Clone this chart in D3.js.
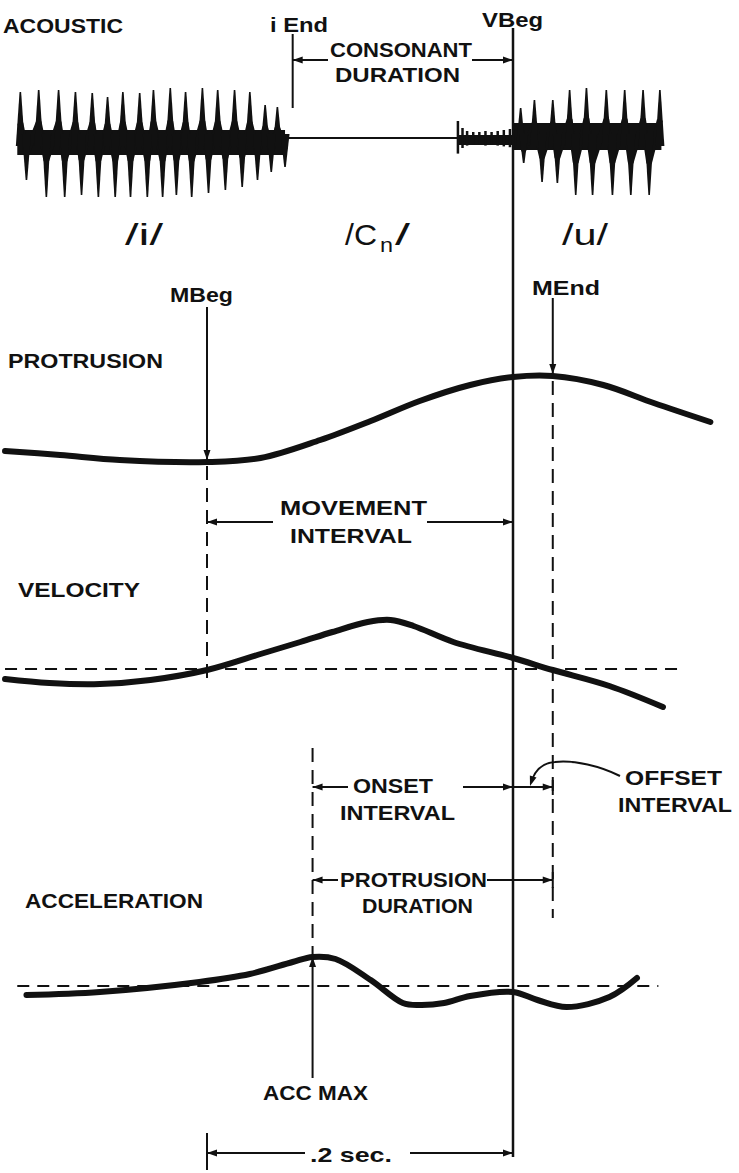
<!DOCTYPE html>
<html>
<head>
<meta charset="utf-8">
<script src="https://cdn.jsdelivr.net/npm/d3@7"></script>
<style>
  body { margin: 0; background: #fff; }
  svg text { font-family: "Liberation Sans", Arial, sans-serif; fill: #111; }
</style>
</head>
<body>
<svg id="chart" width="739" height="1173"></svg>
<script>
// all times in ms, measured from the vowel onset (VBeg)
const iEndMs = -144, vBegMs = 0, mBegMs = -200, mEndMs = 26, accMaxMs = -131;

// acoustic: pulse tips of /i/ and /u/ (time, amplitude)
const iPeakMs = [-322, -310, -297, -286, -275, -265, -255, -244, -235, -224, -214, -203, -193, -182, -172, -162, -154];
const iPeakAmp = [4.8, 5.0, 5.0, 4.8, 4.7, 4.3, 4.8, 4.7, 5.0, 5.2, 4.8, 5.2, 5.0, 5.0, 4.8, 3.5, 3.3];
const iTroughMs = [-318, -305, -293, -282, -271, -260, -250, -239, -229, -220, -210, -199, -188, -177, -167, -158, -149];
const iTroughAmp = [4.0, 5.7, 5.7, 5.5, 5.7, 5.7, 5.7, 5.7, 5.7, 5.5, 5.7, 5.3, 5.0, 4.7, 4.0, 3.2, 2.7];
const uPeakMs = [5, 14, 26, 37, 48, 61, 73, 85, 96];
const uPeakAmp = [3.2, 4.0, 4.0, 5.0, 5.2, 5.0, 5.0, 5.0, 5.0];
const uTroughMs = [7, 19, 29, 41, 52, 65, 77, 89];
const uTroughAmp = [2.3, 4.2, 4.3, 5.5, 5.5, 5.5, 5.5, 5.5];
const burstMs = [-36, -33, -30, -26, -22, -18, -14, -10, -6, -2];
const burstAmp = [1.7, 1.0, 0.7, 0.6, 0.6, 0.7, 0.6, 0.7, 0.8, 0.9];

// lip movement traces (time, value)
const protrusion = [[-332, 1.1], [-296, 0.7], [-257, 0.2], [-200, 0], [-165, 0.4], [-126, 2.2], [-93, 4.1],
  [-61, 6.1], [-28, 7.7], [0, 8.5], [26, 8.6], [59, 7.7], [92, 5.9], [129, 4.0]];
const velocity = [[-332, -1.0], [-303, -1.4], [-270, -1.5], [-237, -1.1], [-200, -0.1], [-165, 1.5], [-139, 2.7],
  [-118, 3.7], [-95, 4.7], [-80, 4.9], [-65, 4.3], [-39, 2.7], [0, 1.1], [26, -0.1], [63, -1.7], [98, -3.8]];
const acceleration = [[-318, -0.9], [-270, -0.6], [-205, 0.4], [-172, 1.2], [-144, 2.4], [-131, 2.9], [-116, 2.7],
  [-93, 0.6], [-72, -1.7], [-61, -1.9], [-45, -1.7], [-28, -1.0], [0, -0.6], [16, -1.4], [35, -2.1], [63, -1.1], [81, 0.8]];

const svg = d3.select("#chart");
const INK = "#111";

const x = d3.scaleLinear().domain([-200, 0]).range([207, 513]);
const yAco = d3.scaleLinear().domain([-6, 6]).range([200, 80]);
const yPro = d3.scaleLinear().domain([0, 10]).range([462, 362]);
const yVel = d3.scaleLinear().domain([-5, 5]).range([719, 619]);
const yAcc = d3.scaleLinear().domain([-3, 3]).range([1016, 956]);

function vline(px, y1, y2, w, dash) {
    svg.append("line").attr("x1", px).attr("x2", px).attr("y1", y1).attr("y2", y2)
        .attr("stroke", INK).attr("stroke-width", w).attr("stroke-dasharray", dash || null);
}

function head(tx, ty, ang) {
    const L = 10, H = 3.5;
    const c = Math.cos(ang), s = Math.sin(ang);
    const bx = tx - L * c, by = ty - L * s;
    svg.append("path")
        .attr("d", `M${tx},${ty}L${bx - H * s},${by + H * c}L${bx + H * s},${by - H * c}Z`)
        .attr("fill", INK);
}

function arrow(x1, y1, x2, y2, w) {
    svg.append("line").attr("x1", x1).attr("y1", y1).attr("x2", x2).attr("y2", y2)
        .attr("stroke", INK).attr("stroke-width", w || 2);
    head(x2, y2, Math.atan2(y2 - y1, x2 - x1));
}

function label(t, x0, y0, len, size, weight) {
    return svg.append("text").attr("x", x0).attr("y", y0)
        .attr("font-size", size || 21).attr("font-weight", weight || "bold")
        .attr("textLength", len).attr("lengthAdjust", "spacingAndGlyphs")
        .text(t);
}

// ---- acoustic waveform
function spikes(times, amps, dir) {
    svg.append("g").selectAll("path").data(d3.zip(times, amps)).join("path")
        .attr("d", ([t, a]) => {
            const cx = x(t), b = yAco(-dir * 0.6), tip = yAco(dir * a);
            return `M${cx - 4.5},${b}L${cx - 0.8},${tip}L${cx + 0.8},${tip}L${cx + 4.5},${b}Z`;
        })
        .attr("fill", INK);
}

// the ringing between pulses, drawn as a zigzag through the pulse tips
function ringing(peaks, peakAmp, troughs, troughAmp, k) {
    const pts = [];
    peaks.forEach((t, i) => pts.push([t, peakAmp[i] * k]));
    troughs.forEach((t, i) => pts.push([t, -troughAmp[i] * k]));
    pts.sort((a, b) => a[0] - b[0]);
    svg.append("path").datum(pts)
        .attr("d", d3.line().x(d => x(d[0])).y(d => yAco(d[1])))
        .attr("fill", "none").attr("stroke", INK).attr("stroke-width", 6).attr("stroke-linejoin", "round");
}

svg.append("rect").attr("x", x(-324)).attr("width", x(-149) - x(-324))
    .attr("y", yAco(1.0)).attr("height", yAco(-1.5) - yAco(1.0)).attr("fill", INK);
ringing(iPeakMs, iPeakAmp, iTroughMs, iTroughAmp, 0.35);
spikes(iPeakMs, iPeakAmp, 1);
spikes(iTroughMs, iTroughAmp, -1);

svg.append("line").attr("x1", x(-149)).attr("x2", x(-36))
    .attr("y1", yAco(0.2)).attr("y2", yAco(0.2)).attr("stroke", INK).attr("stroke-width", 2);
svg.append("rect").attr("x", x(-36)).attr("width", x(0) - x(-36))
    .attr("y", yAco(0.5)).attr("height", yAco(-0.5) - yAco(0.5)).attr("fill", INK);
svg.append("g").selectAll("line").data(d3.zip(burstMs, burstAmp)).join("line")
    .attr("x1", d => x(d[0])).attr("x2", d => x(d[0]))
    .attr("y1", d => yAco(d[1] + 0.2)).attr("y2", d => yAco(-d[1] * 0.8))
    .attr("stroke", INK).attr("stroke-width", 2.5);

svg.append("rect").attr("x", x(0)).attr("width", x(97) - x(0))
    .attr("y", yAco(1.7)).attr("height", yAco(-1.0) - yAco(1.7)).attr("fill", INK);
ringing(uPeakMs, uPeakAmp, uTroughMs, uTroughAmp, 0.4);
spikes(uPeakMs, uPeakAmp, 1);
spikes(uTroughMs, uTroughAmp, -1);

// ---- movement traces
const curve = d3.curveCatmullRom.alpha(0.5);
function trace(data, y) {
    svg.append("path").datum(data)
        .attr("d", d3.line().x(d => x(d[0])).y(d => y(d[1])).curve(curve))
        .attr("fill", "none").attr("stroke", INK).attr("stroke-width", 6)
        .attr("stroke-linecap", "round").attr("stroke-linejoin", "round");
}

// zero lines
svg.append("line").attr("x1", x(-332)).attr("x2", x(109)).attr("y1", yVel(0)).attr("y2", yVel(0))
    .attr("stroke", INK).attr("stroke-width", 2).attr("stroke-dasharray", "12,8");
svg.append("line").attr("x1", x(-324)).attr("x2", x(95)).attr("y1", yAcc(0)).attr("y2", yAcc(0))
    .attr("stroke", INK).attr("stroke-width", 2).attr("stroke-dasharray", "12,8");

trace(protrusion, yPro);
trace(velocity, yVel);
trace(acceleration, yAcc);

// ---- event lines
vline(x(vBegMs), 28, 1157, 2.5);
vline(x(iEndMs), 34, 108, 2);

arrow(x(mBegMs), 307, x(mBegMs), yPro(0) - 2, 2);
vline(x(mBegMs), yPro(0) + 4, 684, 2, "14,8");

arrow(x(mEndMs), 298, x(mEndMs), yPro(8.6) - 2, 2);
vline(x(mEndMs), yPro(8.6) + 5, 918, 2, "14,8");

vline(x(accMaxMs), 748, yAcc(2.9) - 2, 2, "14,8");
arrow(x(accMaxMs), 1078, x(accMaxMs), yAcc(2.9), 2);

// interval arrows
arrow(328, 60, x(iEndMs), 60);
arrow(472, 60, x(vBegMs), 60);

arrow(273, 522, x(mBegMs), 522);
arrow(427, 522, x(vBegMs), 522);

arrow(348, 787, x(accMaxMs), 787);
arrow(463, 787, x(vBegMs), 787);
arrow(x(vBegMs), 787, x(mEndMs), 787);
vline(x(mEndMs), 780, 795, 2);

arrow(338, 880, x(accMaxMs), 880);
arrow(487, 880, x(mEndMs), 880);
vline(x(mEndMs), 872, 888, 2);

arrow(305, 1153, x(mBegMs), 1153);
arrow(410, 1153, x(vBegMs), 1153);
vline(x(mBegMs), 1133, 1170, 2);

// leader from OFFSET INTERVAL
svg.append("path").attr("d", "M620,776C600,766 575,760 555,762C542,763 535,771 532,780")
    .attr("fill", "none").attr("stroke", INK).attr("stroke-width", 2);
head(530, 786, Math.atan2(6, -2));

// ---- labels
label("ACOUSTIC", 3, 33, 120);
label("i End", 270, 32, 58);
label("CONSONANT", 330, 57, 142);
label("DURATION", 335, 82, 125);
label("VBeg", 482, 27, 61);

label("/i/", 125, 245, 38, 30, "normal");
label("/C", 345, 245, 32, 30, "normal");
label("n", 380, 252, 13, 20, "normal");
label("/", 395, 245, 15, 30, "normal");
label("/u/", 562, 245, 46, 30, "normal");

label("MBeg", 170, 302, 63);
label("PROTRUSION", 8, 368, 155);
label("MEnd", 532, 295, 68);
label("MOVEMENT", 280, 515, 147);
label("INTERVAL", 290, 543, 122);

label("VELOCITY", 18, 597, 122);
label("ONSET", 353, 793, 80);
label("INTERVAL", 340, 820, 115);
label("OFFSET", 625, 785, 97);
label("INTERVAL", 618, 812, 114);

label("PROTRUSION", 340, 887, 147);
label("DURATION", 362, 913, 111);
label("ACCELERATION", 25, 908, 178);
label("ACC MAX", 263, 1100, 105);
label(".2 sec.", 310, 1162, 82);
</script>
</body>
</html>
